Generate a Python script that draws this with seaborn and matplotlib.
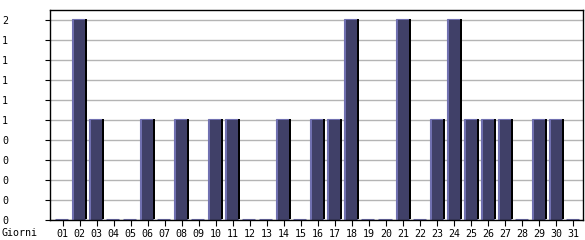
import matplotlib
matplotlib.use("Agg")
import matplotlib.pyplot as plt
import matplotlib.transforms as mtransforms
import numpy as np
import pandas as pd
import seaborn as sns

days = [f"{d:02d}" for d in range(1, 32)]
values = [0, 2, 1, 0, 0, 1, 0, 1, 0, 1, 1, 0, 0, 1, 0, 1, 1, 2, 0, 0,
          2, 0, 1, 2, 1, 1, 1, 0, 1, 1, 0]
y_ticks = [0, 0.2, 0.4, 0.6, 0.8, 1.0, 1.2, 1.4, 1.6, 1.8, 2.0]
y_labels = ["0", "0", "0", "0", "0", "1", "1", "1", "1", "1", "2"]
x_axis_label = "Giorni"

df = pd.DataFrame({"day": days, "value": values})

sns.set_style("white")
plt.rcParams["font.family"] = ["DejaVu Sans Mono"]

W, H = 585, 240
dpi = 100
fig = plt.figure(figsize=(W / dpi, H / dpi), dpi=dpi)
ax = fig.add_axes([50 / W, (H - 220) / H, (582.5 - 50) / W, (220 - 10) / H])

slot = 17.0  # pixels per category (approx)

def shifted(dx, dy=0):
    return mtransforms.offset_copy(ax.transData, fig=fig, x=dx, y=dy, units="dots")

# light layer (left / top edge)
sns.barplot(data=df, x="day", y="value", color="#7070b0", width=13 / slot,
            saturation=1, ax=ax, edgecolor="#7070b0", linewidth=0.8, zorder=3)
for p in ax.containers[-1]:
    p.set_transform(shifted(-1, 1.5))

# dark fill
sns.barplot(data=df, x="day", y="value", color="#404068", width=11 / slot,
            saturation=1, ax=ax, linewidth=0, zorder=3)
for p in ax.containers[-1]:
    p.set_transform(shifted(0, 0))

# black shadow on right
sns.barplot(data=df, x="day", y="value", color="black", width=2 / slot,
            saturation=1, ax=ax, linewidth=0, zorder=3)
for p in ax.containers[-1]:
    p.set_transform(shifted(6.5, 1.5))

ax.set_xlim(-0.75, 30.55)
ax.set_ylim(0, 2.1)
ax.set_yticks(y_ticks)
ax.set_yticklabels(y_labels)
ax.yaxis.grid(True, color="#b4b4b4", linewidth=1)
ax.set_axisbelow(True)
ax.set_xlabel("")
ax.set_ylabel("")

for s in ax.spines.values():
    s.set_visible(True)
    s.set_color("black")
    s.set_linewidth(1)
    s.set_zorder(4)

fs = 7.2
ax.tick_params(axis="x", direction="out", length=6 * 72 / dpi, width=0.8,
               pad=2, labelsize=fs, colors="black", bottom=True)
tick_len_pt = 5 * 72 / dpi
ax.tick_params(axis="y", direction="out", length=tick_len_pt, width=0.8,
               pad=48 * 72 / dpi - tick_len_pt, labelsize=fs, colors="black", left=True)
for lab in ax.get_yticklabels():
    lab.set_horizontalalignment("left")

fig.text(2 / W, 1 - 233 / H, x_axis_label, fontsize=fs, ha="left", va="center",
         color="black")

fig.savefig("out.png", dpi=dpi)
